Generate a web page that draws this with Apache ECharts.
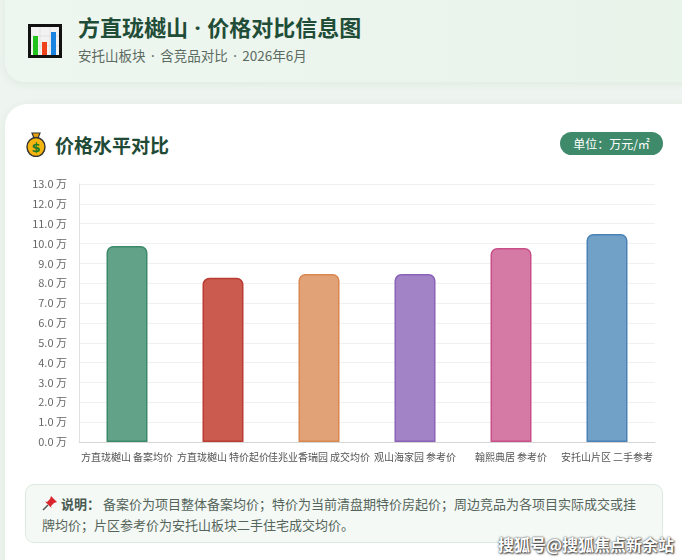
<!DOCTYPE html>
<html><head><meta charset="utf-8">
<script src="https://cdn.jsdelivr.net/npm/echarts@6/dist/echarts.min.js"></script>
<style>
html,body{margin:0;padding:0;width:682px;height:560px;overflow:hidden;background:#eef4ef;font-family:"Noto Sans CJK SC","Noto Sans",sans-serif;}
.header{position:absolute;left:5px;top:-20px;width:700px;height:102px;border-radius:20px;background:linear-gradient(90deg,#eef6f0,#e8f3ea);box-shadow:0 2px 8px rgba(60,110,80,0.08);}
.icon{position:absolute;left:28px;top:24px;width:34px;height:34px;box-sizing:border-box;border:3px solid #111;background:#f2f2f2;}
.title{position:absolute;left:78px;top:10px;font-size:22px;font-weight:bold;color:#1f4d37;}
.sub{position:absolute;left:78px;top:45px;font-size:13.5px;color:#5b6b61;}
.dot{font-family:"Noto Sans","DejaVu Sans",sans-serif;}
.title .dot{margin:0 1.5px;}
.sub .dot{margin:0 2.5px;}
.card{position:absolute;left:5px;top:104px;width:700px;height:500px;border-radius:22px;background:#fff;box-shadow:0 2px 10px rgba(60,110,80,0.08);}
.ctitle{position:absolute;left:55px;top:131px;font-size:19px;font-weight:bold;color:#1f4a36;}
.badge{position:absolute;left:560px;top:132px;width:103px;height:23px;border-radius:12px;background:#3f8a6b;color:#fff;font-size:12px;line-height:23px;text-align:center;}
#chart{position:absolute;left:20px;top:170px;width:645px;height:300px;}
.note{position:absolute;left:25px;top:484px;width:638px;height:59px;box-sizing:border-box;border:1px solid #dcebe0;border-radius:9px;background:#f4f9f5;padding:8px 18px 0 16px;font-size:13px;line-height:21px;color:#55655b;}
.note b{color:#4a5a50;}
.wm{position:absolute;left:498px;top:532px;font-size:16px;font-weight:bold;color:#fff;text-shadow:0 0 2px #333,1px 1px 2px #333;}
</style></head>
<body>
<div class="header"></div>
<div class="icon">
<svg width="28" height="28" viewBox="0 0 28 28" style="position:absolute;left:0;top:0">
<line x1="9" y1="0" x2="9" y2="28" stroke="#e2e2e2" stroke-width="1"/>
<line x1="19" y1="0" x2="19" y2="28" stroke="#e2e2e2" stroke-width="1"/>
<line x1="0" y1="9" x2="28" y2="9" stroke="#e2e2e2" stroke-width="1"/>
<line x1="0" y1="19" x2="28" y2="19" stroke="#e2e2e2" stroke-width="1"/>
<rect x="2" y="9" width="5" height="19" fill="#22c31e"/>
<rect x="11" y="15" width="5" height="13" fill="#f0421a"/>
<rect x="20" y="5" width="5" height="23" fill="#1a82e0"/>
</svg></div>
<div class="title">方直珑樾山 <span class="dot">·</span> 价格对比信息图</div>
<div class="sub">安托山板块 <span class="dot">·</span> 含竞品对比 <span class="dot">·</span> 2026年6月</div>
<div class="card"></div>
<svg style="position:absolute;left:25px;top:131px" width="22" height="26" viewBox="0 0 22 26">
<path d="M7 2 L15 2 L13 7 L9 7 Z" fill="#e8a40f" stroke="#333" stroke-width="1.2"/>
<ellipse cx="11" cy="16" rx="9" ry="9.5" fill="#f5b50f" stroke="#333" stroke-width="1.4"/>
<text x="11" y="21" font-size="13" font-weight="bold" text-anchor="middle" fill="#1a7a2a" font-family="DejaVu Sans">$</text>
</svg>
<div class="ctitle">价格水平对比</div>
<div class="badge">单位：万元/㎡</div>
<div id="chart"></div>
<div class="note"><svg width="16" height="16" viewBox="0 0 16 16" style="vertical-align:-2px;margin-right:3px"><path d="M9 1 L15 7 L12 8 L9 11 L9.5 13 L3 6.5 L5 7 L8 4 Z" fill="#d9262c"/><line x1="1" y1="15" x2="6" y2="10" stroke="#555" stroke-width="1.5"/></svg><b>说明：</b> 备案价为项目整体备案均价；特价为当前清盘期特价房起价；周边竞品为各项目实际成交或挂牌均价；片区参考价为安托山板块二手住宅成交均价。</div>
<div class="wm">搜狐号@搜狐焦点新余站</div>
<script>
var categories = ["方直珑樾山 备案均价","方直珑樾山 特价起价","佳兆业香瑞园 成交均价","观山海家园 参考价","翰熙典居 参考价","安托山片区 二手参考"];
var prices = [9.88, 8.27, 8.47, 8.46, 9.78, 10.48];
var fillColors = ["#62a288","#cb5a4f","#e1a277","#a283c6","#d57aa4","#72a1c8"];
var borderColors = ["#3c8a6a","#bb3c32","#d9874f","#8a62b8","#c94f88","#4a82b6"];
var yTicks = {min:0, max:13, interval:1};

var chart = echarts.init(document.getElementById('chart'));
chart.setOption({
  animation:false,
  grid:{left:59,right:10,top:14,bottom:28},
  xAxis:{type:'category',data:categories,
    axisLine:{lineStyle:{color:'#d6d6d6'}},axisTick:{show:false},
    axisLabel:{interval:0,fontSize:10,color:'#555',margin:10,fontFamily:'Noto Sans CJK SC'}},
  yAxis:{type:'value',min:yTicks.min,max:yTicks.max,interval:yTicks.interval,
    axisLine:{show:true,lineStyle:{color:'#e0e0e0'}},axisTick:{show:false},
    splitLine:{lineStyle:{color:'#f0f0f0'}},
    axisLabel:{fontSize:11,color:'#666',margin:12,fontFamily:'Noto Sans CJK SC',
      formatter:function(v){return v.toFixed(1)+' 万';}}},
  series:[{type:'bar',barWidth:41,
    data:prices.map(function(v,i){return {value:v,itemStyle:{color:fillColors[i],borderColor:borderColors[i],borderWidth:1.5,borderRadius:[6,6,0,0]}};})
  }]
});
</script>
</body></html>
